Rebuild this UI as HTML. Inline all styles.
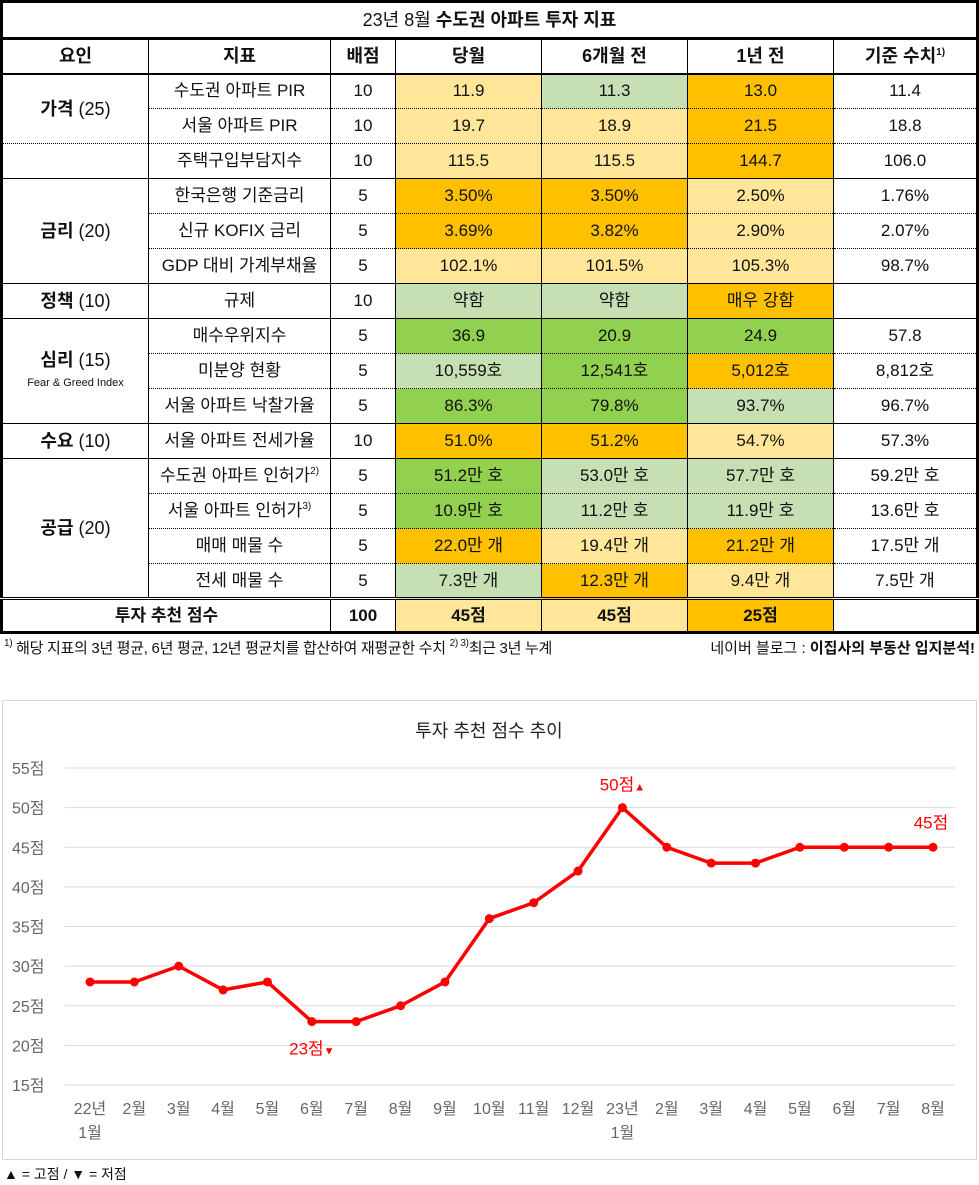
<!DOCTYPE html>
<html><head><meta charset="utf-8">
<style>
*{margin:0;padding:0;box-sizing:border-box}
body{width:979px;height:1185px;background:#fff;font-family:"Liberation Sans","Noto Sans CJK KR",sans-serif;color:#111;position:relative;overflow:hidden}
table{position:absolute;left:0;top:0;width:979px;border-collapse:collapse;table-layout:fixed;border:3px solid #000}
td,th{text-align:center;vertical-align:middle;font-size:17px;line-height:20px;font-weight:normal;border-left:1px solid #000;border-right:1px solid #000;height:35px;padding:0;white-space:nowrap}
th{font-weight:bold;font-size:18px;border-bottom:2px solid #000}
.title td{height:37px;border-bottom:3px solid #000;font-size:18px}
.d td{border-bottom:1px dotted #000}
.s td{border-bottom:1px solid #000}
.f{font-weight:bold;font-size:18px}
.ly{background:#FFE699}.or{background:#FFC000}.lg{background:#C6E0B4}.g{background:#92D050}
.tot td{border-top:3px double #000;height:34px;font-weight:bold}
sup{font-size:10px;line-height:0;vertical-align:0;position:relative;top:-7px}
.note{position:absolute;top:640px;font-size:15px;line-height:18px}
</style></head><body>
<table>
<colgroup><col style="width:147px"><col style="width:182px"><col style="width:65px"><col style="width:146px"><col style="width:146px"><col style="width:146px"><col></colgroup>
<tr class="title"><td colspan="7">23년 8월 <b>수도권 아파트 투자 지표</b></td></tr>
<tr><th>요인</th><th>지표</th><th>배점</th><th>당월</th><th>6개월 전</th><th>1년 전</th><th>기준 수치<sup>1)</sup></th></tr>
<tr class="d"><td rowspan="2" class="f" style="border-bottom:1px dotted #000">가격 <span style="font-weight:normal">(25)</span></td><td>수도권 아파트 PIR</td><td>10</td><td class="ly">11.9</td><td class="lg">11.3</td><td class="or">13.0</td><td>11.4</td></tr>
<tr class="d"><td>서울 아파트 PIR</td><td>10</td><td class="ly">19.7</td><td class="ly">18.9</td><td class="or">21.5</td><td>18.8</td></tr>
<tr class="s"><td></td><td>주택구입부담지수</td><td>10</td><td class="ly">115.5</td><td class="ly">115.5</td><td class="or">144.7</td><td>106.0</td></tr>
<tr class="d"><td rowspan="3" class="f" style="border-bottom:1px solid #000">금리 <span style="font-weight:normal">(20)</span></td><td>한국은행 기준금리</td><td>5</td><td class="or">3.50%</td><td class="or">3.50%</td><td class="ly">2.50%</td><td>1.76%</td></tr>
<tr class="d"><td>신규 KOFIX 금리</td><td>5</td><td class="or">3.69%</td><td class="or">3.82%</td><td class="ly">2.90%</td><td>2.07%</td></tr>
<tr class="s"><td>GDP 대비 가계부채율</td><td>5</td><td class="ly">102.1%</td><td class="ly">101.5%</td><td class="ly">105.3%</td><td>98.7%</td></tr>
<tr class="s"><td class="f">정책 <span style="font-weight:normal">(10)</span></td><td>규제</td><td>10</td><td class="lg">약함</td><td class="lg">약함</td><td class="or">매우 강함</td><td></td></tr>
<tr class="d"><td rowspan="3" class="f" style="border-bottom:1px solid #000;line-height:1.1">심리 <span style="font-weight:normal">(15)</span><br><span style="font-weight:normal;font-size:11px">Fear &amp; Greed Index</span></td><td>매수우위지수</td><td>5</td><td class="g">36.9</td><td class="g">20.9</td><td class="g">24.9</td><td>57.8</td></tr>
<tr class="d"><td>미분양 현황</td><td>5</td><td class="lg">10,559호</td><td class="g">12,541호</td><td class="or">5,012호</td><td>8,812호</td></tr>
<tr class="s"><td>서울 아파트 낙찰가율</td><td>5</td><td class="g">86.3%</td><td class="g">79.8%</td><td class="lg">93.7%</td><td>96.7%</td></tr>
<tr class="s"><td class="f">수요 <span style="font-weight:normal">(10)</span></td><td>서울 아파트 전세가율</td><td>10</td><td class="or">51.0%</td><td class="or">51.2%</td><td class="ly">54.7%</td><td>57.3%</td></tr>
<tr class="d"><td rowspan="4" class="f">공급 <span style="font-weight:normal">(20)</span></td><td>수도권 아파트 인허가<sup>2)</sup></td><td>5</td><td class="g">51.2만 호</td><td class="lg">53.0만 호</td><td class="lg">57.7만 호</td><td>59.2만 호</td></tr>
<tr class="d"><td>서울 아파트 인허가<sup>3)</sup></td><td>5</td><td class="g">10.9만 호</td><td class="lg">11.2만 호</td><td class="lg">11.9만 호</td><td>13.6만 호</td></tr>
<tr class="d"><td>매매 매물 수</td><td>5</td><td class="or">22.0만 개</td><td class="ly">19.4만 개</td><td class="or">21.2만 개</td><td>17.5만 개</td></tr>
<tr><td>전세 매물 수</td><td>5</td><td class="lg">7.3만 개</td><td class="or">12.3만 개</td><td class="ly">9.4만 개</td><td>7.5만 개</td></tr>
<tr class="tot"><td colspan="2">투자 추천 점수</td><td>100</td><td class="ly">45점</td><td class="ly">45점</td><td class="or">25점</td><td></td></tr>
</table>
<div class="note" style="left:4px;letter-spacing:-0.3px"><sup>1)</sup> 해당 지표의 3년 평균, 6년 평균, 12년 평균치를 합산하여 재평균한 수치 <sup>2) 3)</sup>최근 3년 누계</div>
<div class="note" style="right:4px">네이버 블로그 : <b>이집사의 부동산 입지분석!</b></div>

<div style="position:absolute;left:2px;top:700px;width:975px;height:460px;border:1px solid #d8d8d8"></div>
<svg id="chart" style="position:absolute;left:0;top:0" width="979" height="1185"></svg>
<div style="position:absolute;left:4px;top:1164px;font-size:14px">▲ = 고점 / ▼ = 저점</div>
<script>
const months=["22년|1월","2월","3월","4월","5월","6월","7월","8월","9월","10월","11월","12월","23년|1월","2월","3월","4월","5월","6월","7월","8월"];
const scores=[28,28,30,27,28,23,23,25,28,36,38,42,50,45,43,43,45,45,45,45];
const yTicks=[15,20,25,30,35,40,45,50,55];
const NS="http://www.w3.org/2000/svg";
const svg=document.getElementById('chart');
const x=i=>90+i*(933-90)/(months.length-1);
const y=v=>1085-(v-15)*(1085-768)/40;
function mk(t,a,txt){const e=document.createElementNS(NS,t);for(const k in a)e.setAttribute(k,a[k]);if(txt!=null)e.textContent=txt;svg.appendChild(e);return e;}
const f='Liberation Sans, Noto Sans CJK KR, sans-serif';
let t=mk('text',{x:489,y:737,'text-anchor':'middle','font-size':18,fill:'#222','font-family':f},'투자 추천 점수 추이');


yTicks.forEach(v=>{
 const l=mk('line',{x1:65,x2:955,y1:y(v),y2:y(v),stroke:'#d9d9d9','stroke-width':1});
 
 
 const tx=mk('text',{x:12,y:y(v)+6,'font-size':16,fill:'#666','font-family':f},v+'점');
 
 
});
months.forEach((m,i)=>{
 m.split('|').forEach((p,j)=>{
  const tx=mk('text',{x:x(i),y:1114+j*24,'text-anchor':'middle','font-size':16,fill:'#666','font-family':f},p);
  
  
 });
});
const pl=mk('polyline',{points:scores.map((v,i)=>x(i)+','+y(v)).join(' '),fill:'none',stroke:'#f00','stroke-width':3.5,'stroke-linejoin':'round'});


scores.forEach((v,i)=>{
 const c=mk('circle',{cx:x(i),cy:y(v),r:4.5,fill:'#f00'});
 
 
});
const maxI=scores.indexOf(Math.max(...scores)), minI=scores.indexOf(Math.min(...scores)), last=scores.length-1;
function lab(xx,yy,txt,mark,name){
 const e=mk('text',{x:xx,y:yy,'text-anchor':'middle','font-size':17,fill:'#f00','font-family':f},txt);
 if(mark){const s=document.createElementNS(NS,'tspan');s.setAttribute('font-size',11);s.textContent=mark;e.appendChild(s);}
 
 
}
lab(x(maxI),y(scores[maxI])-17,scores[maxI]+'점','▲','peak-label');
lab(x(minI),y(scores[minI])+33,scores[minI]+'점','▼','trough-label');
lab(x(last)-2,y(scores[last])-19,scores[last]+'점','','latest-label');
</script>
</body></html>
